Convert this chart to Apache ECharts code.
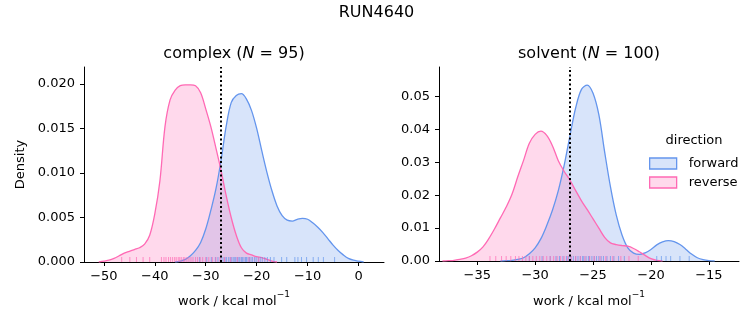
<!DOCTYPE html>
<html><head><meta charset="utf-8">
<script src="https://cdn.jsdelivr.net/npm/echarts@6/dist/echarts.min.js"></script>
<style>html,body{margin:0;padding:0;background:#fff}#c{width:753px;height:325px}</style>
</head><body><div id="c"></div><script>
// ---------- data ----------
const complexFwdWork = [-36,-35,-34,-33,-32,-31,-30,-29,-28,-27,-26,-25,-24,-23,-22,-21,-20,-19,-18,-17,-16,-15,-14,-13,-12,-11,-10,-9,-8,-7,-6,-5,-4,-3,-2,-1,0,1];
const complexFwdDensity = [0,0.0001,0.0003,0.0007,0.0013,0.0022,0.0037,0.0058,0.0082,0.0114,0.0152,0.0179,0.0187,0.0189,0.0183,0.0170,0.0150,0.0125,0.0101,0.0080,0.0063,0.0052,0.0047,0.0046,0.0048,0.0049,0.0048,0.0044,0.0039,0.0033,0.0026,0.0019,0.0013,0.0008,0.0004,0.0002,0.0001,0];
const complexRevWork = [-51,-50,-49,-48,-47,-46,-45,-44,-43,-42,-41,-40,-39,-38,-37,-36,-35,-34,-33,-32,-31,-30,-29,-28,-27,-26,-25,-24,-23,-22,-21,-20,-19,-18,-17,-16];
const complexRevDensity = [0,0.0001,0.0002,0.0004,0.0007,0.0010,0.0012,0.0014,0.0016,0.0020,0.0030,0.0054,0.0091,0.0152,0.0182,0.0193,0.0198,0.0199,0.0199,0.0198,0.0190,0.0172,0.0152,0.0128,0.0103,0.0075,0.0050,0.0030,0.0016,0.0010,0.0008,0.0006,0.0005,0.0003,0.0001,0];

const solventFwdWork = [-33,-32.5,-32,-31.5,-31,-30.5,-30,-29.5,-29,-28.5,-28,-27.5,-27,-26.5,-26,-25.5,-25,-24.5,-24,-23.5,-23,-22.5,-22,-21.5,-21,-20.5,-20,-19.5,-19,-18.5,-18,-17.5,-17,-16.5,-16,-15.5,-15,-14.5];
const solventFwdDensity = [0,0.0001,0.0002,0.0005,0.0010,0.0022,0.0040,0.0068,0.0108,0.0155,0.0214,0.0290,0.0380,0.0466,0.0522,0.0535,0.0510,0.0445,0.0332,0.0226,0.0140,0.0079,0.0040,0.0024,0.0020,0.0025,0.0035,0.0049,0.0058,0.0062,0.0059,0.0050,0.0036,0.0021,0.0010,0.0004,0.0001,0];
const solventRevWork = [-38,-37.5,-37,-36.5,-36,-35.5,-35,-34.5,-34,-33.5,-33,-32.5,-32,-31.5,-31,-30.5,-30,-29.5,-29,-28.5,-28,-27.5,-27,-26.5,-26,-25.5,-25,-24.5,-24,-23.5,-23,-22.5,-22,-21.5,-21,-20.5,-20,-19.5,-19];
const solventRevDensity = [0,0.0001,0.0002,0.0005,0.0009,0.0016,0.0027,0.0043,0.0068,0.0098,0.0131,0.0164,0.0203,0.0256,0.0306,0.0358,0.0385,0.0395,0.0382,0.0350,0.0305,0.0273,0.0246,0.0214,0.0183,0.0156,0.0128,0.0100,0.0072,0.0055,0.0050,0.0047,0.0045,0.0038,0.0028,0.0017,0.0007,0.0002,0];

// individual work values (rug)
const complexFwdRug = [-31.2,-29.8,-28.9,-28.1,-27.6,-27.0,-26.6,-26.2,-25.9,-25.5,-25.2,-24.9,-24.6,-24.3,-24.1,-23.8,-23.5,-23.3,-23.0,-22.8,-22.5,-22.2,-22.0,-21.7,-21.4,-21.1,-20.8,-20.4,-20.1,-19.7,-19.3,-18.9,-18.4,-17.9,-17.3,-16.6,-15.1,-14.1,-12.5,-11.9,-11.2,-10.2,-8.9,-7.9,-6.9,-4.7];
const complexRevRug = [-46.5,-44.9,-43.6,-42.3,-41.0,-38.7,-38.2,-37.8,-37.3,-36.9,-36.5,-36.1,-35.8,-35.4,-35.1,-34.8,-34.4,-34.1,-33.7,-33.3,-32.9,-32.5,-32.0,-31.6,-31.1,-30.6,-30.0,-29.4,-28.7,-28.0,-27.2,-26.3,-25.1,-23.8,-21.5,-19.6];
const solventFwdRug = [-30.5,-29.4,-28.7,-28.2,-27.9,-27.6,-27.3,-27.1,-26.9,-26.7,-26.5,-26.3,-26.1,-25.9,-25.8,-25.6,-25.4,-25.3,-25.1,-24.9,-24.7,-24.5,-24.3,-24.1,-23.8,-23.5,-23.2,-22.8,-22.3,-19.5,-19.1,-18.7,-18.3,-17.5,-16.7];
const solventRevRug = [-33.9,-33.4,-32.9,-32.5,-32.1,-31.7,-31.4,-31.1,-30.8,-30.5,-30.2,-29.9,-29.6,-29.3,-29.0,-28.7,-28.4,-28.1,-27.8,-27.5,-27.2,-26.9,-26.5,-26.1,-25.7,-25.3,-24.9,-24.4,-23.9,-23.3,-22.6,-21.9,-21.1];

// reference (dotted) work value per panel
const refWork = [-27.1, -27.0];

// tick values
const complexXTicks = [-50,-40,-30,-20,-10,0];
const complexYTicks = [0,0.005,0.010,0.015,0.020];
const solventXTicks = [-35,-30,-25,-20,-15];
const solventYTicks = [0,0.01,0.02,0.03,0.04,0.05];

const panelTitles = ['complex', 'solvent'];
const panelN = [95, 100];
const directions = ['forward', 'reverse'];

// ---------- styling ----------
const FONT = 'DejaVu Sans';
const FWD = '#6495ED', REV = '#FF69B4';
const FWD_FILL = 'rgba(100,149,237,0.25)', REV_FILL = 'rgba(255,105,180,0.25)';

function pairs(xs, ys) { return xs.map((x, i) => [x, ys[i]]); }
function rug(xs) { return xs.map(x => [x, 0]); }
function fmtX(v) { return (v < 0 ? '\u2212' : '') + Math.abs(v); }

function xAxis(grid, min, max, ticks) {
  return {
    gridIndex: grid, type: 'value', min: min, max: max,
    axisLine: { show: true, onZero: false, lineStyle: { color: '#000', width: 1 } },
    axisTick: { show: true, length: 4, customValues: ticks, lineStyle: { color: '#000', width: 1 } },
    axisLabel: { customValues: ticks, formatter: fmtX, fontSize: 13, fontFamily: FONT, color: '#000', margin: 8 },
    splitLine: { show: false }
  };
}
function yAxis(grid, max, ticks, dec) {
  return {
    gridIndex: grid, type: 'value', min: 0, max: max,
    axisLine: { show: true, onZero: false, lineStyle: { color: '#000', width: 1 } },
    axisTick: { show: true, length: 4, customValues: ticks, lineStyle: { color: '#000', width: 1 } },
    axisLabel: { customValues: ticks, formatter: v => v.toFixed(dec), fontSize: 13, fontFamily: FONT, color: '#000', margin: 9 },
    splitLine: { show: false }
  };
}
function kde(name, idx, xs, ys, color, fill) {
  return {
    type: 'line', name: name, xAxisIndex: idx, yAxisIndex: idx,
    data: pairs(xs, ys), smooth: 0.35, showSymbol: false, symbol: 'none',
    lineStyle: { color: color, width: 1.3 }, itemStyle: { color: color },
    areaStyle: { color: fill, opacity: 1 }, z: 2, silent: true
  };
}
function rugSeries(name, idx, xs, color, ref) {
  const s = {
    type: 'scatter', name: name, xAxisIndex: idx, yAxisIndex: idx,
    data: rug(xs), symbol: 'rect', symbolSize: [1, 5], symbolOffset: [0, -2.5],
    itemStyle: { color: color, opacity: 0.7 }, z: 3, silent: true
  };
  if (ref !== undefined) {
    s.markLine = {
      silent: true, symbol: ['none', 'none'], label: { show: false },
      lineStyle: { color: '#000', width: 2, type: [2, 2.5] },
      data: [{ xAxis: ref }], z: 5
    };
  }
  return s;
}
function titleRich(name, n) {
  return '{t|' + name + ' (}{i|N}{t| = ' + n + ')}';
}
function textEl(x, y, text, size, rich, rot) {
  return {
    type: 'text', x: x, y: y, rotation: rot || 0,
    style: {
      text: text, fontSize: size, fontFamily: FONT, fill: '#000',
      align: 'center', verticalAlign: 'middle', textAlign: 'center', textVerticalAlign: 'middle',
      rich: rich
    }
  };
}
const titleRichStyle = { t: { fontSize: 16, fontFamily: FONT, fill: '#000' }, i: { fontSize: 16, fontFamily: FONT, fontStyle: 'italic', fill: '#000' } };
const labelRichStyle = {
  a: { fontSize: 13, fontFamily: FONT, fill: '#000', lineHeight: 18, verticalAlign: 'bottom' },
  s: { fontSize: 9, fontFamily: FONT, fill: '#000', verticalAlign: 'top', lineHeight: 10 }
};

const chart = echarts.init(document.getElementById('c'), null, { renderer: 'canvas' });
chart.setOption({
  animation: false,
  backgroundColor: '#fff',
  grid: [
    { left: 84, top: 67, width: 300, height: 195 },
    { left: 439, top: 67, width: 300, height: 194 }
  ],
  xAxis: [ xAxis(0, -53.9, 5.0, complexXTicks), xAxis(1, -38.3, -12.4, solventXTicks) ],
  yAxis: [ yAxis(0, 0.0219, complexYTicks, 3), yAxis(1, 0.059, solventYTicks, 2) ],
  legend: {
    orient: 'vertical', left: 649, top: 157, padding: 0, itemWidth: 27, itemHeight: 11, itemGap: 6,
    selectedMode: false,
    formatter: n => '{g| }' + n,
    textStyle: { fontSize: 13, fontFamily: FONT, color: '#000', rich: { g: { width: 7, fontSize: 13 } } },
    data: [
      { name: directions[0], icon: 'rect', itemStyle: { color: FWD_FILL, borderColor: FWD, borderWidth: 1.3 } },
      { name: directions[1], icon: 'rect', itemStyle: { color: REV_FILL, borderColor: REV, borderWidth: 1.3 } }
    ]
  },
  graphic: [
    textEl(376.5, 13, 'RUN4640', 16),
    textEl(234, 54, titleRich(panelTitles[0], panelN[0]), 16, titleRichStyle),
    textEl(589, 54, titleRich(panelTitles[1], panelN[1]), 16, titleRichStyle),
    textEl(234, 299, '{a|work / kcal mol}{s|\u22121}', 13, labelRichStyle),
    textEl(589, 299, '{a|work / kcal mol}{s|\u22121}', 13, labelRichStyle),
    textEl(21, 164.5, 'Density', 13, null, Math.PI / 2),
    textEl(694, 141, 'direction', 13)
  ],
  series: [
    kde(directions[0], 0, complexFwdWork, complexFwdDensity, FWD, FWD_FILL),
    kde(directions[1], 0, complexRevWork, complexRevDensity, REV, REV_FILL),
    kde(directions[0], 1, solventFwdWork, solventFwdDensity, FWD, FWD_FILL),
    kde(directions[1], 1, solventRevWork, solventRevDensity, REV, REV_FILL),
    rugSeries('complex forward rug', 0, complexFwdRug, FWD),
    rugSeries('complex reverse rug', 0, complexRevRug, REV, refWork[0]),
    rugSeries('solvent forward rug', 1, solventFwdRug, FWD),
    rugSeries('solvent reverse rug', 1, solventRevRug, REV, refWork[1])
  ]
});
</script></body></html>
